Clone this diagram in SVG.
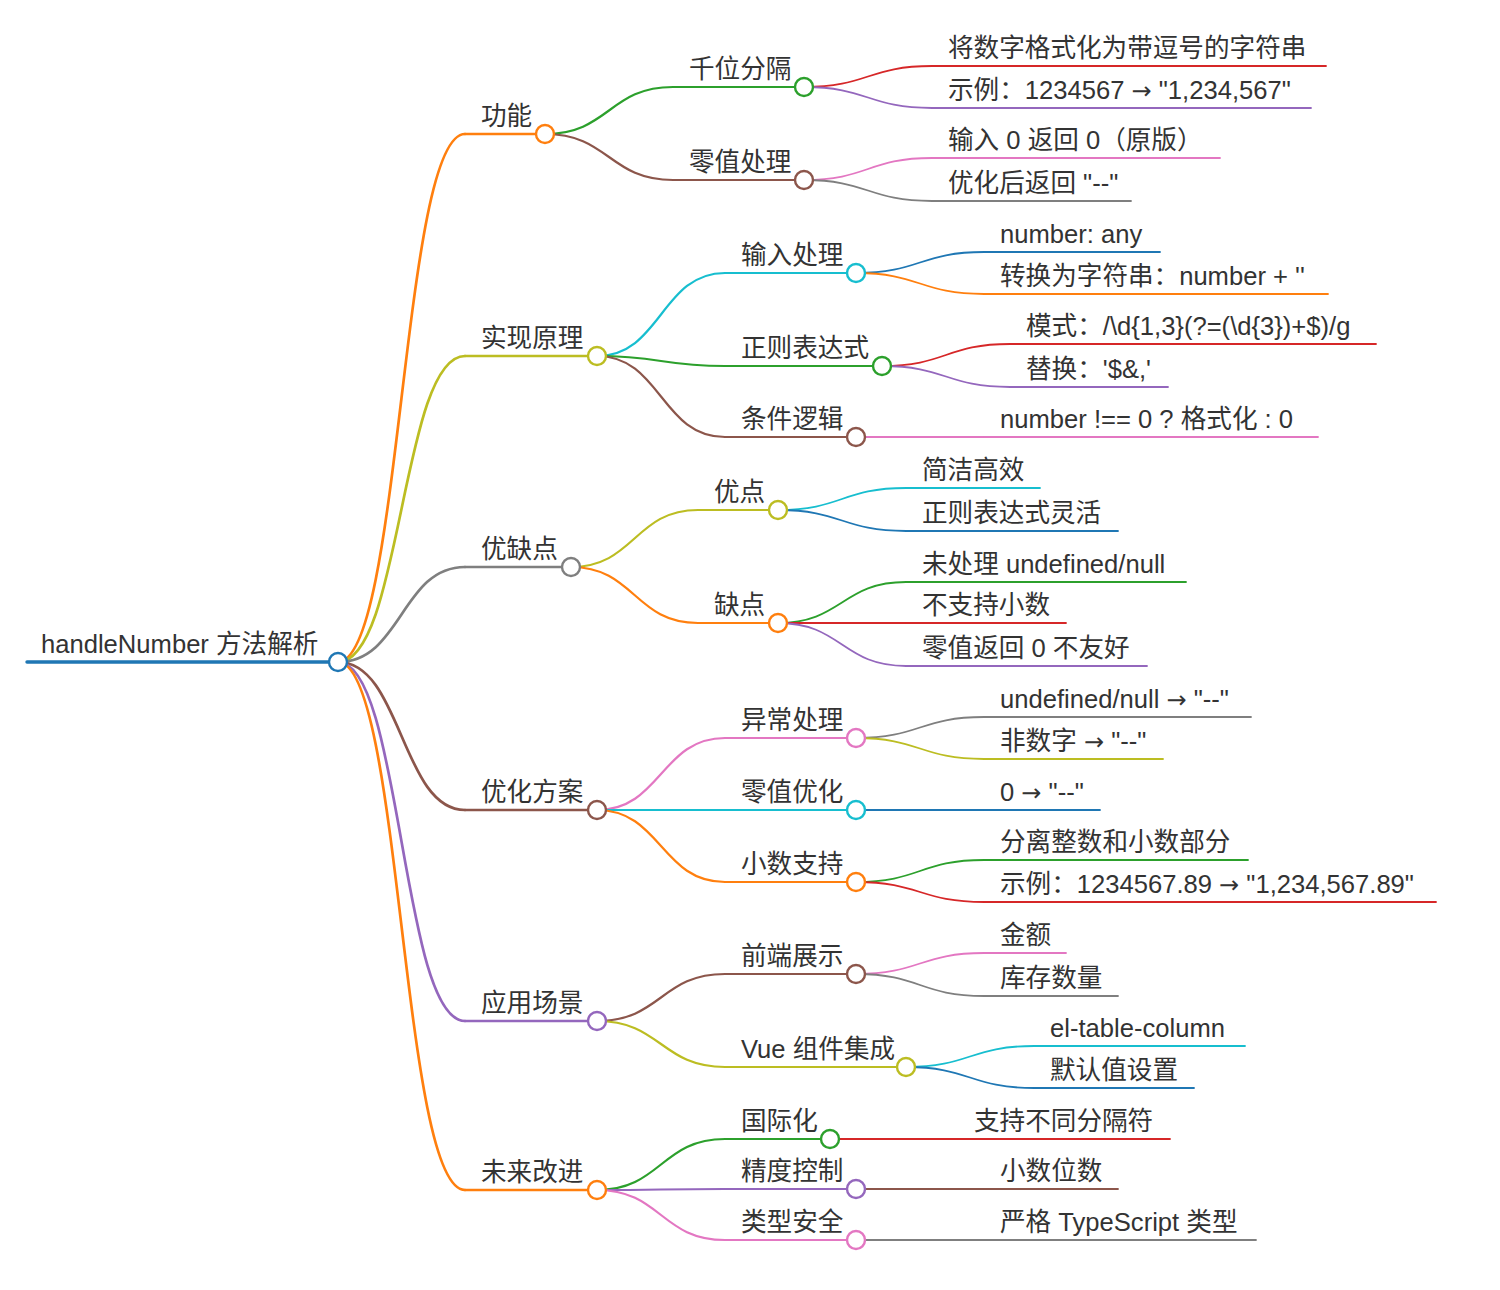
<svg xmlns="http://www.w3.org/2000/svg" width="1500" height="1290" viewBox="0 0 1500 1290">
<style>
.t{font-family:"Liberation Sans","Noto Sans CJK SC",sans-serif;font-size:25.6px;fill:#333}
.ar{font-family:"DejaVu Sans",sans-serif;font-size:24px}
path,line{fill:none;stroke-linecap:round}
circle{fill:#fff;stroke-width:2.4}
.w0{stroke-width:3.4}.w1{stroke-width:2.7}.w2{stroke-width:2.2}.w3{stroke-width:1.8}
.blue{stroke:#1f77b4}.orange{stroke:#ff7f0e}.green{stroke:#2ca02c}.red{stroke:#d62728}.purple{stroke:#9467bd}
.brown{stroke:#8c564b}.pink{stroke:#e377c2}.gray{stroke:#7f7f7f}.olive{stroke:#bcbd22}.cyan{stroke:#17becf}
</style>
<rect width="1500" height="1290" fill="#fff"/>
<g id="connectors">
<path class="w1 orange" d="M338 662 C401.5 662 401.5 134 465 134"/>
<path class="w1 olive" d="M338 662 C401.5 662 401.5 356 465 356"/>
<path class="w1 gray" d="M338 662 C401.5 662 401.5 567 465 567"/>
<path class="w1 brown" d="M338 662 C401.5 662 401.5 810 465 810"/>
<path class="w1 purple" d="M338 662 C401.5 662 401.5 1021 465 1021"/>
<path class="w1 orange" d="M338 662 C401.5 662 401.5 1190 465 1190"/>
<path class="w2 green" d="M545 134 C609 134 609 87 673 87"/>
<path class="w2 brown" d="M545 134 C609 134 609 180 673 180"/>
<path class="w2 cyan" d="M597 356 C661 356 661 273 725 273"/>
<path class="w2 green" d="M597 356 C661 356 661 366 725 366"/>
<path class="w2 brown" d="M597 356 C661 356 661 437 725 437"/>
<path class="w2 olive" d="M571 567 C634.5 567 634.5 510 698 510"/>
<path class="w2 orange" d="M571 567 C634.5 567 634.5 623 698 623"/>
<path class="w2 pink" d="M597 810 C661 810 661 738 725 738"/>
<path class="w2 cyan" d="M597 810 C661 810 661 810 725 810"/>
<path class="w2 orange" d="M597 810 C661 810 661 882 725 882"/>
<path class="w2 brown" d="M597 1021 C661 1021 661 974 725 974"/>
<path class="w2 olive" d="M597 1021 C661 1021 661 1067 725 1067"/>
<path class="w2 green" d="M597 1190 C661 1190 661 1139 725 1139"/>
<path class="w2 purple" d="M597 1190 C661 1190 661 1189 725 1189"/>
<path class="w2 pink" d="M597 1190 C661 1190 661 1240 725 1240"/>
<path class="w3 red" d="M804 87 C868 87 868 66 932 66"/>
<path class="w3 purple" d="M804 87 C868 87 868 108 932 108"/>
<path class="w3 pink" d="M804 180 C868 180 868 158 932 158"/>
<path class="w3 gray" d="M804 180 C868 180 868 201 932 201"/>
<path class="w3 blue" d="M856 273 C920 273 920 252 984 252"/>
<path class="w3 orange" d="M856 273 C920 273 920 294 984 294"/>
<path class="w3 red" d="M882 366 C946 366 946 344 1010 344"/>
<path class="w3 purple" d="M882 366 C946 366 946 387 1010 387"/>
<path class="w3 pink" d="M856 437 C920 437 920 437 984 437"/>
<path class="w3 cyan" d="M778 510 C842 510 842 488 906 488"/>
<path class="w3 blue" d="M778 510 C842 510 842 531 906 531"/>
<path class="w3 green" d="M778 623 C842 623 842 582 906 582"/>
<path class="w3 red" d="M778 623 C842 623 842 623 906 623"/>
<path class="w3 purple" d="M778 623 C842 623 842 666 906 666"/>
<path class="w3 gray" d="M856 738 C920 738 920 717 984 717"/>
<path class="w3 olive" d="M856 738 C920 738 920 759 984 759"/>
<path class="w3 blue" d="M856 810 C920 810 920 810 984 810"/>
<path class="w3 green" d="M856 882 C920 882 920 860 984 860"/>
<path class="w3 red" d="M856 882 C920 882 920 902 984 902"/>
<path class="w3 pink" d="M856 974 C920 974 920 953 984 953"/>
<path class="w3 gray" d="M856 974 C920 974 920 996 984 996"/>
<path class="w3 cyan" d="M906 1067 C970 1067 970 1046 1034 1046"/>
<path class="w3 blue" d="M906 1067 C970 1067 970 1088 1034 1088"/>
<path class="w3 red" d="M830 1139 C894 1139 894 1139 958 1139"/>
<path class="w3 brown" d="M856 1189 C920 1189 920 1189 984 1189"/>
<path class="w3 gray" d="M856 1240 C920 1240 920 1240 984 1240"/>
</g>
<g id="root"><path class="w0 blue" d="M27 662 H338"/><circle class="blue" cx="338" cy="662" r="9"/><text class="t" x="41" y="653">handleNumber 方法解析</text></g>
<g id="n1"><path class="w1 orange" d="M465 134 H545"/><circle class="orange" cx="545" cy="134" r="9"/><text class="t" x="481" y="125">功能</text></g>
<g id="n1a"><path class="w2 green" d="M673 87 H804"/><circle class="green" cx="804" cy="87" r="9"/><text class="t" x="689" y="78">千位分隔</text></g>
<g id="n1a1"><path class="w3 red" d="M932 66 H1326"/><text class="t" x="948" y="57">将数字格式化为带逗号的字符串</text></g>
<g id="n1a2"><path class="w3 purple" d="M932 108 H1311"/><text class="t" x="948" y="99">示例：1234567 <tspan class="ar">→</tspan> "1,234,567"</text></g>
<g id="n1b"><path class="w2 brown" d="M673 180 H804"/><circle class="brown" cx="804" cy="180" r="9"/><text class="t" x="689" y="171">零值处理</text></g>
<g id="n1b1"><path class="w3 pink" d="M932 158 H1220"/><text class="t" x="948" y="149">输入 0 返回 0（原版）</text></g>
<g id="n1b2"><path class="w3 gray" d="M932 201 H1131"/><text class="t" x="948" y="192">优化后返回 "--"</text></g>
<g id="n2"><path class="w1 olive" d="M465 356 H597"/><circle class="olive" cx="597" cy="356" r="9"/><text class="t" x="481" y="347">实现原理</text></g>
<g id="n2a"><path class="w2 cyan" d="M725 273 H856"/><circle class="cyan" cx="856" cy="273" r="9"/><text class="t" x="741" y="264">输入处理</text></g>
<g id="n2a1"><path class="w3 blue" d="M984 252 H1160"/><text class="t" x="1000" y="243">number: any</text></g>
<g id="n2a2"><path class="w3 orange" d="M984 294 H1328"/><text class="t" x="1000" y="285">转换为字符串：number + ''</text></g>
<g id="n2b"><path class="w2 green" d="M725 366 H882"/><circle class="green" cx="882" cy="366" r="9"/><text class="t" x="741" y="357">正则表达式</text></g>
<g id="n2b1"><path class="w3 red" d="M1010 344 H1376"/><text class="t" x="1026" y="335">模式：/\d{1,3}(?=(\d{3})+$)/g</text></g>
<g id="n2b2"><path class="w3 purple" d="M1010 387 H1168"/><text class="t" x="1026" y="378">替换：'$&amp;,'</text></g>
<g id="n2c"><path class="w2 brown" d="M725 437 H856"/><circle class="brown" cx="856" cy="437" r="9"/><text class="t" x="741" y="428">条件逻辑</text></g>
<g id="n2c1"><path class="w3 pink" d="M984 437 H1318"/><text class="t" x="1000" y="428">number !== 0 ? 格式化 : 0</text></g>
<g id="n3"><path class="w1 gray" d="M465 567 H571"/><circle class="gray" cx="571" cy="567" r="9"/><text class="t" x="481" y="558">优缺点</text></g>
<g id="n3a"><path class="w2 olive" d="M698 510 H778"/><circle class="olive" cx="778" cy="510" r="9"/><text class="t" x="714" y="501">优点</text></g>
<g id="n3a1"><path class="w3 cyan" d="M906 488 H1040"/><text class="t" x="922" y="479">简洁高效</text></g>
<g id="n3a2"><path class="w3 blue" d="M906 531 H1118"/><text class="t" x="922" y="522">正则表达式灵活</text></g>
<g id="n3b"><path class="w2 orange" d="M698 623 H778"/><circle class="orange" cx="778" cy="623" r="9"/><text class="t" x="714" y="614">缺点</text></g>
<g id="n3b1"><path class="w3 green" d="M906 582 H1186"/><text class="t" x="922" y="573">未处理 undefined/null</text></g>
<g id="n3b2"><path class="w3 red" d="M906 623 H1066"/><text class="t" x="922" y="614">不支持小数</text></g>
<g id="n3b3"><path class="w3 purple" d="M906 666 H1147"/><text class="t" x="922" y="657">零值返回 0 不友好</text></g>
<g id="n4"><path class="w1 brown" d="M465 810 H597"/><circle class="brown" cx="597" cy="810" r="9"/><text class="t" x="481" y="801">优化方案</text></g>
<g id="n4a"><path class="w2 pink" d="M725 738 H856"/><circle class="pink" cx="856" cy="738" r="9"/><text class="t" x="741" y="729">异常处理</text></g>
<g id="n4a1"><path class="w3 gray" d="M984 717 H1251"/><text class="t" x="1000" y="708">undefined/null <tspan class="ar">→</tspan> "--"</text></g>
<g id="n4a2"><path class="w3 olive" d="M984 759 H1163"/><text class="t" x="1000" y="750">非数字 <tspan class="ar">→</tspan> "--"</text></g>
<g id="n4b"><path class="w2 cyan" d="M725 810 H856"/><circle class="cyan" cx="856" cy="810" r="9"/><text class="t" x="741" y="801">零值优化</text></g>
<g id="n4b1"><path class="w3 blue" d="M984 810 H1100"/><text class="t" x="1000" y="801">0 <tspan class="ar">→</tspan> "--"</text></g>
<g id="n4c"><path class="w2 orange" d="M725 882 H856"/><circle class="orange" cx="856" cy="882" r="9"/><text class="t" x="741" y="873">小数支持</text></g>
<g id="n4c1"><path class="w3 green" d="M984 860 H1248"/><text class="t" x="1000" y="851">分离整数和小数部分</text></g>
<g id="n4c2"><path class="w3 red" d="M984 902 H1436"/><text class="t" x="1000" y="893">示例：1234567.89 <tspan class="ar">→</tspan> "1,234,567.89"</text></g>
<g id="n5"><path class="w1 purple" d="M465 1021 H597"/><circle class="purple" cx="597" cy="1021" r="9"/><text class="t" x="481" y="1012">应用场景</text></g>
<g id="n5a"><path class="w2 brown" d="M725 974 H856"/><circle class="brown" cx="856" cy="974" r="9"/><text class="t" x="741" y="965">前端展示</text></g>
<g id="n5a1"><path class="w3 pink" d="M984 953 H1066"/><text class="t" x="1000" y="944">金额</text></g>
<g id="n5a2"><path class="w3 gray" d="M984 996 H1118"/><text class="t" x="1000" y="987">库存数量</text></g>
<g id="n5b"><path class="w2 olive" d="M725 1067 H906"/><circle class="olive" cx="906" cy="1067" r="9"/><text class="t" x="741" y="1058">Vue 组件集成</text></g>
<g id="n5b1"><path class="w3 cyan" d="M1034 1046 H1245"/><text class="t" x="1050" y="1037">el-table-column</text></g>
<g id="n5b2"><path class="w3 blue" d="M1034 1088 H1194"/><text class="t" x="1050" y="1079">默认值设置</text></g>
<g id="n6"><path class="w1 orange" d="M465 1190 H597"/><circle class="orange" cx="597" cy="1190" r="9"/><text class="t" x="481" y="1181">未来改进</text></g>
<g id="n6a"><path class="w2 green" d="M725 1139 H830"/><circle class="green" cx="830" cy="1139" r="9"/><text class="t" x="741" y="1130">国际化</text></g>
<g id="n6a1"><path class="w3 red" d="M958 1139 H1170"/><text class="t" x="974" y="1130">支持不同分隔符</text></g>
<g id="n6b"><path class="w2 purple" d="M725 1189 H856"/><circle class="purple" cx="856" cy="1189" r="9"/><text class="t" x="741" y="1180">精度控制</text></g>
<g id="n6b1"><path class="w3 brown" d="M984 1189 H1118"/><text class="t" x="1000" y="1180">小数位数</text></g>
<g id="n6c"><path class="w2 pink" d="M725 1240 H856"/><circle class="pink" cx="856" cy="1240" r="9"/><text class="t" x="741" y="1231">类型安全</text></g>
<g id="n6c1"><path class="w3 gray" d="M984 1240 H1256"/><text class="t" x="1000" y="1231">严格 TypeScript 类型</text></g>
</svg>
